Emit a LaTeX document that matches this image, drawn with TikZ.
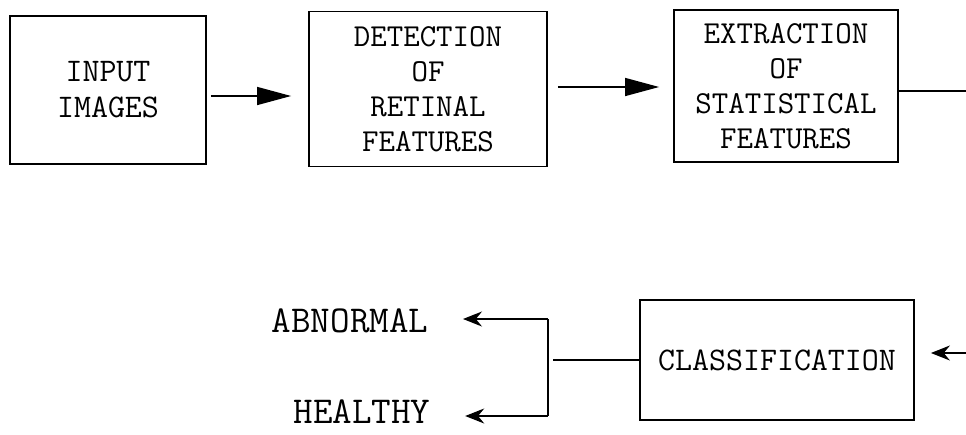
\documentclass[tikz,border=0pt]{standalone}
\usepackage{fontspec}
\usetikzlibrary{arrows.meta}

\begin{document}
\begin{tikzpicture}[x=1pt,y=-1pt,line width=1.4pt,
  block/.style={draw,rectangle,line width=1.8pt,align=center,inner sep=0pt},
  lbl/.style={inner ysep=0pt,inner xsep=34pt,font=\ttfamily\fontsize{38}{42}\selectfont},
  bigarrow/.style={-{Triangle[length=34pt,width=18pt]}},
  smallarrow/.style={-{Stealth[length=19pt,width=15pt]}}]

\useasboundingbox (0,0) rectangle (966,434);

% Top row of blocks
\node[block,minimum width=196pt,minimum height=148pt,font=\ttfamily\fontsize{33}{36}\selectfont]
  (inp) at (108,90) {INPUT\\IMAGES};
\node[block,minimum width=238pt,minimum height=155pt,font=\ttfamily\fontsize{32}{35}\selectfont]
  (det) at (428,89) {DETECTION\\OF\\RETINAL\\FEATURES};
\node[block,minimum width=224pt,minimum height=152pt,font=\ttfamily\fontsize{32}{35}\selectfont]
  (ext) at (786,86) {EXTRACTION\\OF\\STATISTICAL\\FEATURES};

% Bottom row
\node[block,minimum width=274pt,minimum height=120pt,font=\ttfamily\fontsize{33}{36}\selectfont]
  (cls) at (777,360) {CLASSIFICATION};
\node[lbl] (abn) at (350,321) {ABNORMAL};
\node[lbl] (hea) at (362,412) {HEALTHY};

% Define coordinates
\coordinate (aone) at ([yshift=-6pt]inp.east);
\coordinate (atwo) at ([yshift=2pt]det.east);
\coordinate (outr) at (966,91);
\coordinate (inr) at (966,353);
\coordinate (sptop) at (548,319);
\coordinate (spbot) at (548,416);

% Arrows between the top blocks
\draw[bigarrow,shorten <=4pt,shorten >=17pt] (aone) -- (aone -| det.west);
\draw[bigarrow,shorten <=10pt,shorten >=14pt] (atwo) -- (atwo -| ext.west);

% Lines leaving and entering at the right edge
\draw (ext.east |- outr) -- (outr);
\draw[smallarrow,shorten >=16pt] (inr) -- (inr -| cls.east);

% Split to the two outcomes
\draw[shorten >=5pt] (cls.west) -- (cls.west -| sptop);
\draw (sptop) -- (spbot);
\draw[smallarrow] (sptop) -- (sptop -| abn.east);
\draw[smallarrow] (spbot) -- (spbot -| hea.east);

\end{tikzpicture}
\end{document}
